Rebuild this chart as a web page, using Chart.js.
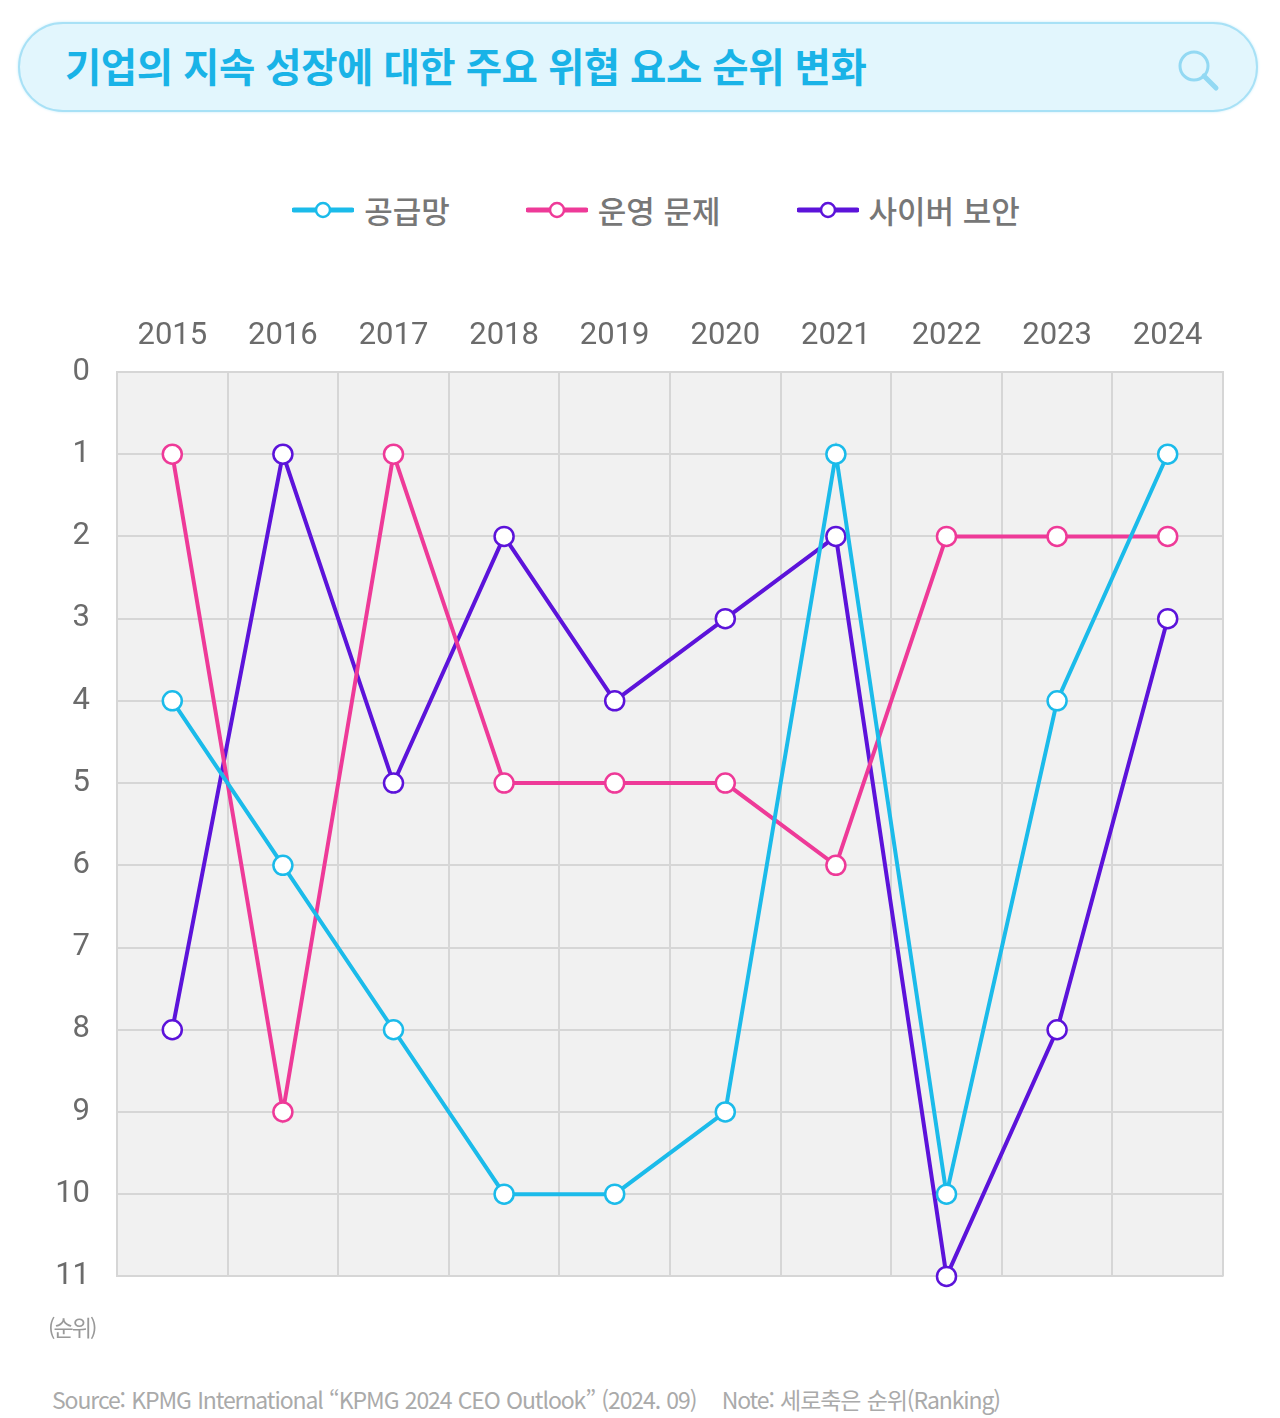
<!DOCTYPE html>
<html lang="ko">
<head>
<meta charset="utf-8">
<title>기업의 지속 성장에 대한 주요 위협 요소 순위 변화</title>
<script src="https://cdn.jsdelivr.net/npm/chart.js@4"></script>
<style>
    body {
        margin: 0;
        width: 1280px;
        height: 1418px;
        background: #fff;
        font-family: "Noto Sans CJK KR", "Noto Sans", sans-serif;
        position: relative;
        overflow: hidden;
    }
    .title-box {
        position: absolute;
        left: 18px;
        top: 22px;
        width: 1236px;
        height: 86px;
        border: 2px solid #a8e1f6;
        border-radius: 45px;
        background: #e2f6fd;
        box-shadow: 0 0 3px #c6ecfa;
    }
    .title-box h1 {
        margin: 0;
        position: absolute;
        left: 45px;
        top: 16px;
        font-size: 39.5px;
        font-weight: 700;
        color: #19b3e7;
        letter-spacing: -0.5px;
        line-height: 50px;
    }
    .title-box svg {
        position: absolute;
        right: 30px;
        top: 22px;
    }
    #legend {
        position: absolute;
        top: 187px;
        left: 16px;
        width: 1280px;
        display: flex;
        justify-content: center;
        gap: 76px;
        font-size: 31px;
        color: #777;
        font-weight: 500;
    }
    #legend .item {
        display: flex;
        align-items: center;
        gap: 10px;
    }
    .chart-wrap {
        position: absolute;
        left: 0;
        top: 300px;
        width: 1280px;
        height: 1022px;
    }
    .unit {
        position: absolute;
        left: 48px;
        top: 1310px;
        font-size: 22px;
        color: #999;
        letter-spacing: -2px;
    }
    .source {
        position: absolute;
        left: 52px;
        top: 1382px;
        font-size: 23px;
        color: #aaa;
        letter-spacing: -1.1px;
        word-spacing: 1px;
    }
</style>
</head>
<body>
<div class="title-box">
    <h1>기업의 지속 성장에 대한 주요 위협 요소 순위 변화</h1>
    <svg width="52" height="52" viewBox="0 0 52 52">
        <circle cx="20" cy="20" r="14" fill="none" stroke="#93d9f3" stroke-width="3"/>
        <line x1="30" y1="30" x2="42" y2="42" stroke="#93d9f3" stroke-width="5" stroke-linecap="round"/>
    </svg>
</div>
<div id="legend"></div>
<div class="chart-wrap"><canvas id="rank-chart"></canvas></div>
<div class="unit">(순위)</div>
<div class="source">Source: KPMG International “KPMG 2024 CEO Outlook” (2024. 09) &nbsp;&nbsp; Note: 세로축은 순위(Ranking)</div>

<script>
const years = ['2015', '2016', '2017', '2018', '2019', '2020', '2021', '2022', '2023', '2024'];
const rankTicks = [0, 1, 2, 3, 4, 5, 6, 7, 8, 9, 10, 11];

const seriesNames = ['공급망', '운영 문제', '사이버 보안'];
const supplyChain = [4, 6, 8, 10, 10, 9, 1, 10, 4, 1];
const operations = [1, 9, 1, 5, 5, 5, 6, 2, 2, 2];
const cyberSecurity = [8, 1, 5, 2, 4, 3, 2, 11, 8, 3];

const seriesColors = ['#1bbbea', '#ee3a98', '#5c13da'];

function buildLegend() {
    const legend = document.getElementById('legend');
    seriesNames.forEach((name, i) => {
        const item = document.createElement('div');
        item.className = 'item';
        const c = seriesColors[i];
        item.innerHTML =
            `<svg width="62" height="24" viewBox="0 0 62 24">
                <line x1="2" y1="12" x2="60" y2="12" stroke="${c}" stroke-width="5" stroke-linecap="round"/>
                <circle cx="31" cy="12" r="7" fill="#fff" stroke="${c}" stroke-width="2.5"/>
            </svg><span>${name}</span>`;
        legend.appendChild(item);
    });
}

const plotBackground = {
    id: 'plotBackground',
    beforeDraw(chart) {
        const { ctx, chartArea } = chart;
        ctx.save();
        ctx.fillStyle = '#f1f1f1';
        ctx.fillRect(chartArea.left, chartArea.top, chartArea.width, chartArea.height);
        ctx.restore();
    }
};

function makeDataset(label, data, color) {
    return {
        label: label,
        data: data,
        borderColor: color,
        backgroundColor: '#ffffff',
        borderWidth: 4,
        pointRadius: 9.5,
        pointBorderWidth: 2.5,
        pointBorderColor: color,
        pointBackgroundColor: '#ffffff',
        tension: 0,
        clip: false
    };
}

function createRankChart() {
    const ctx = document.getElementById('rank-chart').getContext('2d');
    return new Chart(ctx, {
        type: 'line',
        data: {
            labels: years,
            datasets: [
                makeDataset(seriesNames[0], supplyChain, seriesColors[0]),
                makeDataset(seriesNames[1], operations, seriesColors[1]),
                makeDataset(seriesNames[2], cyberSecurity, seriesColors[2])
            ]
        },
        options: {
            responsive: true,
            maintainAspectRatio: false,
            animation: false,
            layout: {
                padding: { top: 0, right: 57, bottom: 23, left: 0 }
            },
            plugins: {
                legend: { display: false },
                tooltip: { enabled: false }
            },
            scales: {
                x: {
                    position: 'top',
                    offset: true,
                    grid: {
                        offset: true,
                        color: '#d6d6d6',
                        lineWidth: 2,
                        drawTicks: false
                    },
                    border: { color: '#d6d6d6', width: 2 },
                    ticks: {
                        color: '#6b6b6b',
                        padding: 17,
                        font: { family: 'Roboto', size: 31 }
                    },
                    afterFit(scale) { scale.height = 72; }
                },
                y: {
                    reverse: true,
                    min: 0,
                    max: 11,
                    afterBuildTicks(scale) {
                        scale.ticks = rankTicks.map(v => ({ value: v }));
                    },
                    grid: {
                        color: '#d6d6d6',
                        lineWidth: 2,
                        drawTicks: false
                    },
                    border: { color: '#d6d6d6', width: 2 },
                    ticks: {
                        color: '#6b6b6b',
                        padding: 27,
                        font: { family: 'Roboto', size: 31 }
                    },
                    afterFit(scale) { scale.width = 117; }
                }
            }
        },
        plugins: [plotBackground]
    });
}

buildLegend();
createRankChart();
</script>
</body>
</html>
